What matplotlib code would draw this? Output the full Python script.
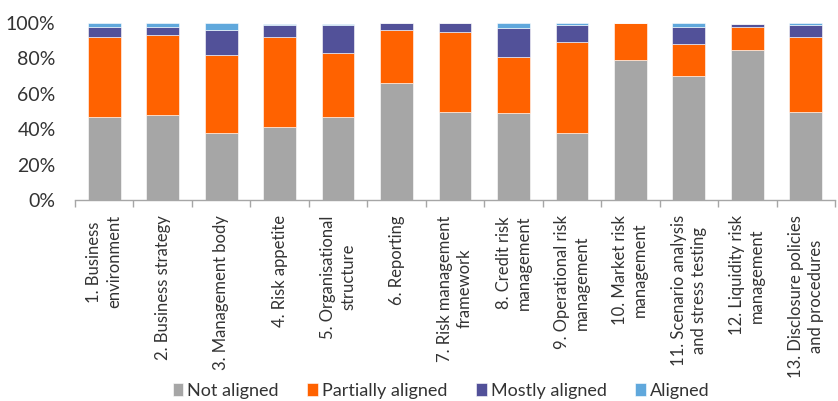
import matplotlib
matplotlib.use("Agg")
import matplotlib.pyplot as plt
import numpy as np

# values (% of banks)
categories = [
    "1. Business\nenvironment",
    "2. Business strategy",
    "3. Management body",
    "4. Risk appetite",
    "5. Organisational\nstructure",
    "6. Reporting",
    "7. Risk management\nframework",
    "8. Credit risk\nmanagement",
    "9. Operational risk\nmanagement",
    "10. Market risk\nmanagement",
    "11. Scenario analysis\nand stress testing",
    "12. Liquidity risk\nmanagement",
    "13. Disclosure policies\nand procedures",
]
not_aligned = [47, 48, 38, 41, 47, 66, 50, 49, 38, 79, 70, 85, 50]
partially_aligned = [45, 45, 44, 51, 36, 30, 45, 32, 51, 21, 18, 13, 42]
mostly_aligned = [6, 5, 14, 7, 16, 4, 5, 16, 10, 0, 10, 1.5, 7]
aligned = [2, 2, 4, 0.5, 0.5, 0, 0, 3, 1, 0, 2, 0, 1]

series = ["Not aligned", "Partially aligned", "Mostly aligned", "Aligned"]
colors = ["#A6A6A6", "#FF6200", "#525199", "#60A8DC"]

plt.rcParams["font.family"] = ["Lato", "DejaVu Sans"]

fig = plt.figure(figsize=(8.38, 4.01), dpi=100)
ax = fig.add_axes([75 / 838, 201 / 401, 760 / 838, 177 / 401])

x = np.arange(len(categories))
bottom = np.zeros(len(categories))
for name, vals, col in zip(series, [not_aligned, partially_aligned, mostly_aligned, aligned], colors):
    ax.bar(x, vals, 0.56, bottom=bottom, color=col, label=name,
           edgecolor="white", linewidth=0.4)
    bottom += np.array(vals)

ax.set_xlim(-0.5, len(categories) - 0.5)
ax.set_ylim(0, 100)
ax.set_yticks(range(0, 101, 20))
ax.set_yticklabels([f"{v}%" for v in range(0, 101, 20)], fontsize=14, color="#333333")
ax.tick_params(axis="y", length=0, pad=14)

ax.set_xticks(x)
ax.set_xticklabels(categories, rotation=90, ha="center", va="top",
                   multialignment="center", fontsize=12, color="#333333",
                   linespacing=1.3)
ax.tick_params(axis="x", which="major", length=0, pad=11)
ax.set_xticks(np.arange(-0.5, len(categories), 1), minor=True)
ax.tick_params(axis="x", which="minor", length=5, color="#A6A6A6", width=1)

for s in ["top", "right", "left"]:
    ax.spines[s].set_visible(False)
ax.spines["bottom"].set_color("#A6A6A6")
ax.spines["bottom"].set_linewidth(1)

fig.legend(loc="lower center", bbox_to_anchor=(441 / 838, -0.035), ncol=4,
           frameon=False, fontsize=13, handlelength=0.6, handleheight=0.8,
           handletextpad=0.2, columnspacing=1.6, labelcolor="#333333")

fig.savefig("out.png", dpi=100)
